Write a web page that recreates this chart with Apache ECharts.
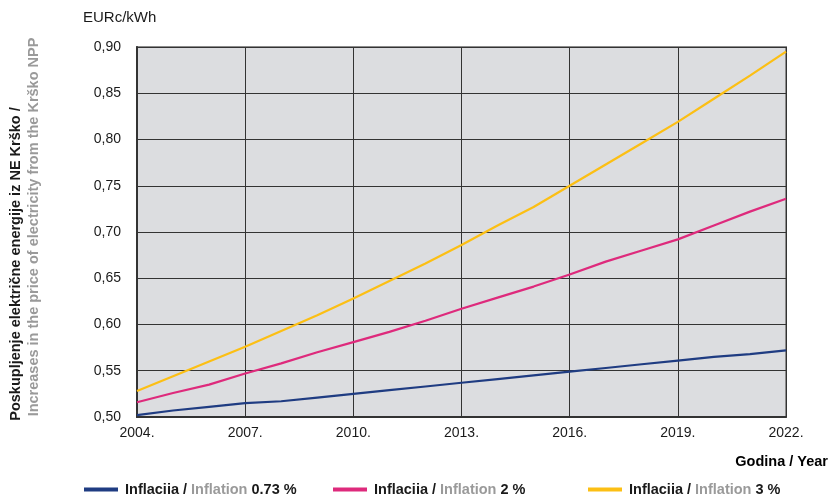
<!DOCTYPE html>
<html>
<head>
<meta charset="utf-8">
<script src="https://cdn.jsdelivr.net/npm/echarts@6/dist/echarts.min.js"></script>
<style>
  html, body { margin: 0; padding: 0; background: #fff; }
  #chart { width: 829px; height: 494px; }
</style>
</head>
<body>
<div id="chart"></div>
<script>
const years = ['2004', '2005', '2006', '2007', '2008', '2009', '2010', '2011', '2012', '2013',
  '2014', '2015', '2016', '2017', '2018', '2019', '2020', '2021', '2022']

// EURc/kWh po inflaciji
const inflation073 = [0.502, 0.507, 0.511, 0.515, 0.517, 0.521, 0.525, 0.529, 0.533, 0.537,
  0.541, 0.545, 0.549, 0.553, 0.557, 0.561, 0.565, 0.568, 0.572]
const inflation2 = [0.516, 0.526, 0.535, 0.547, 0.558, 0.570, 0.581, 0.592, 0.604, 0.617,
  0.629, 0.641, 0.654, 0.668, 0.680, 0.692, 0.707, 0.722, 0.736]
const inflation3 = [0.528, 0.544, 0.560, 0.576, 0.593, 0.610, 0.628, 0.647, 0.666, 0.686,
  0.707, 0.727, 0.750, 0.773, 0.796, 0.819, 0.844, 0.869, 0.895]

const yTicks = { min: 0.5, max: 0.9, step: 0.05 }

const seriesNames = ['Inflacija / Inflation 0.73 %', 'Inflacija / Inflation 2 %', 'Inflacija / Inflation 3 %']
const legendPct = ['0.73 %', '2 %', '3 %']

const FONT = '"Liberation Sans", Arial, sans-serif'
const colors = ['#1f3c82', '#de2a7c', '#fcbf14']

const chart = echarts.init(document.getElementById('chart'))

const legendRich = {
  a: { color: '#1a1a1a', fontWeight: 'bold', fontSize: 14.5, fontFamily: FONT },
  b: { color: '#9a9a9a', fontWeight: 'bold', fontSize: 14.5, fontFamily: FONT }
}

const makeLegend = (i, left) => ({
  data: [seriesNames[i]],
  left: left,
  top: 482,
  icon: 'rect',
  itemWidth: 34,
  itemHeight: 4,
  itemGap: 0,
  padding: 0,
  formatter: () => '{a|Inflacija / }{b|Inflation }{a|' + legendPct[i] + '}',
  textStyle: { rich: legendRich, padding: [0, 0, 0, 2] }
})

const option = {
  animation: false,
  color: colors,
  grid: {
    left: 137,
    right: 43,
    top: 47,
    bottom: 77,
    show: true,
    backgroundColor: '#dcdde0',
    borderColor: '#8c8c8c',
    borderWidth: 2
  },
  legend: [makeLegend(0, 84), makeLegend(1, 333), makeLegend(2, 588)],
  xAxis: {
    type: 'category',
    data: years,
    boundaryGap: false,
    axisLine: { lineStyle: { color: '#333', width: 2 } },
    axisTick: { show: false },
    axisLabel: {
      interval: 2,
      margin: 9,
      color: '#1a1a1a',
      fontSize: 14,
      fontFamily: FONT,
      formatter: v => v + '.'
    },
    splitLine: { show: true, interval: 2, lineStyle: { color: '#333', width: 1 } }
  },
  yAxis: {
    type: 'value',
    min: yTicks.min,
    max: yTicks.max,
    interval: yTicks.step,
    axisLine: { show: true, lineStyle: { color: '#333', width: 2 } },
    axisTick: { show: false },
    axisLabel: {
      margin: 16,
      color: '#1a1a1a',
      fontSize: 14,
      fontFamily: FONT,
      formatter: v => v.toFixed(2).replace('.', ',')
    },
    splitLine: { show: true, lineStyle: { color: '#333', width: 1 } }
  },
  graphic: [
    {
      type: 'text',
      left: 83,
      top: 10,
      style: { text: 'EURc/kWh', fill: '#1a1a1a', font: '15px ' + FONT }
    },
    {
      type: 'text',
      x: 16,
      y: 264,
      rotation: Math.PI / 2,
      style: {
        text: 'Poskupljenje električne energije iz NE Krško /',
        fill: '#1a1a1a',
        font: 'bold 14.5px ' + FONT,
        align: 'center',
        verticalAlign: 'middle'
      }
    },
    {
      type: 'text',
      x: 34,
      y: 227,
      rotation: Math.PI / 2,
      style: {
        text: 'Increases in the price of electricity from the Krško NPP',
        fill: '#9a9a9a',
        font: 'bold 14.5px ' + FONT,
        align: 'center',
        verticalAlign: 'middle'
      }
    },
    {
      type: 'text',
      right: 1,
      top: 454,
      style: {
        text: '{a|Godina / }{b|Year}',
        rich: legendRich
      }
    }
  ],
  series: [
    { name: seriesNames[0], type: 'line', data: inflation073, symbol: 'none', lineStyle: { width: 2.2 } },
    { name: seriesNames[1], type: 'line', data: inflation2, symbol: 'none', lineStyle: { width: 2.2 } },
    { name: seriesNames[2], type: 'line', data: inflation3, symbol: 'none', lineStyle: { width: 2.2 } }
  ]
}

chart.setOption(option)
</script>
</body>
</html>
